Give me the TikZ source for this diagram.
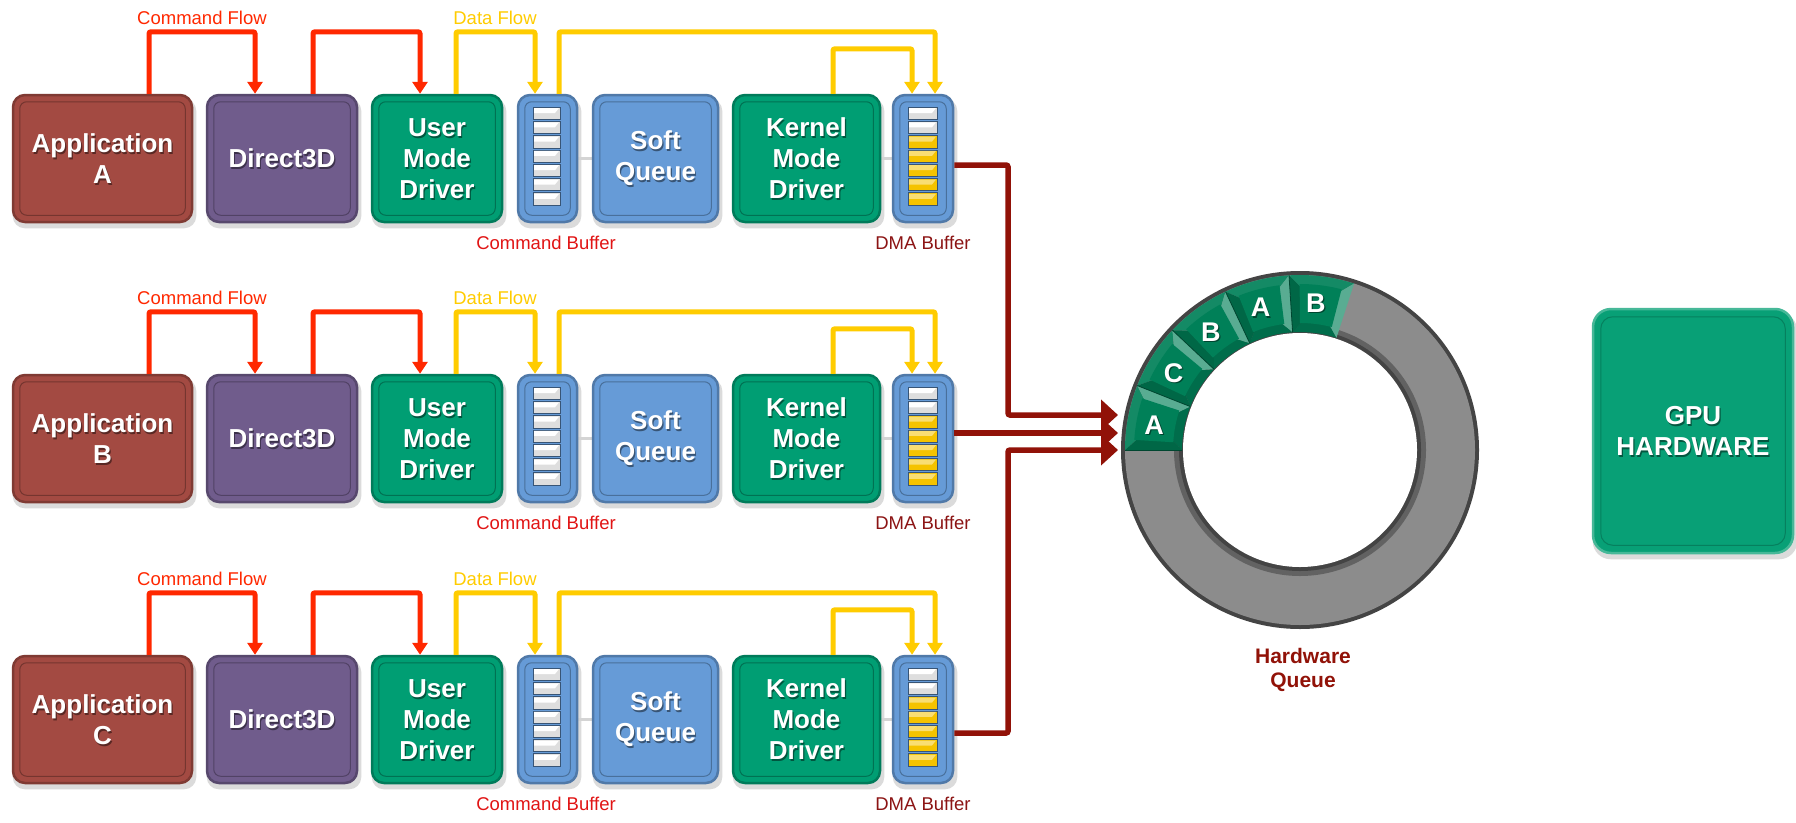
\documentclass[tikz,border=0pt]{standalone}
\usepackage{fontspec}
\setmainfont{Liberation Sans}
\usetikzlibrary{arrows.meta,calc}
\pgfdeclarelayer{bg}
\pgfsetlayers{bg,main}
\definecolor{appc}{RGB}{163,74,66}
\definecolor{d3dc}{RGB}{112,92,140}
\definecolor{grnc}{RGB}{0,158,115}
\definecolor{bluc}{RGB}{102,155,215}
\definecolor{redf}{RGB}{255,40,0}
\definecolor{yelf}{RGB}{255,204,0}
\definecolor{marf}{RGB}{145,18,8}
\definecolor{cbufc}{RGB}{225,20,20}
\definecolor{dmac}{RGB}{140,20,20}
\definecolor{slotg}{RGB}{222,222,222}
\definecolor{sloty}{RGB}{245,195,0}
\definecolor{ringg}{RGB}{140,140,140}
\definecolor{ringd}{RGB}{68,68,68}
\definecolor{segc}{RGB}{0,128,88}
\definecolor{gpuc}{RGB}{8,160,118}
\newcommand\bx[6]{%
  \node[box, fill=#2, draw=#2!78!black, minimum width=#5pt] (#1) at (#3,#4) {};
  \draw[#2!72!black, line width=1pt, rounded corners=7pt] ([shift={(8pt,-8pt)}]#1.north west) rectangle ([shift={(-8pt,8pt)}]#1.south east);
  \node[btxt, text=black, opacity=0.45] (#1s) at ([shift={(1.2pt,-1.8pt)}]#1.center) {#6};
  \node[btxt] (#1t) at (#1.center) {#6};
  \begin{pgfonlayer}{bg}\fill[black!14, rounded corners=12pt] ([shift={(1pt,-5pt)}]#1.north west) rectangle ([shift={(3pt,-5pt)}]#1.south east);\end{pgfonlayer}%
}
\begin{document}
\begin{tikzpicture}[x=1pt,y=-1pt,
  box/.style={rounded corners=12pt, line width=2.5pt, inner sep=0pt, minimum height=127pt},
  btxt/.style={inner sep=0pt, text=white, font=\bfseries\fontsize{26}{31}\selectfont, align=center},
  lab/.style={font=\fontsize{18.5}{20}\selectfont, inner sep=0pt},
  redflow/.style={draw=redf, line width=5pt, rounded corners=2pt, -{Triangle[width=15pt,length=12pt]}},
  yelflow/.style={draw=yelf, line width=5pt, rounded corners=2pt, -{Triangle[width=15pt,length=12pt]}},
  marflow/.style={draw=marf, line width=5.5pt, rounded corners=2pt, -{Triangle[width=30pt,length=17pt]}},
  gline/.style={draw=black!17, line width=3pt},
  slot/.style={draw=bluc!55!black, line width=0.8pt}
]
\begin{pgfonlayer}{bg}\fill[white] (0,0) rectangle (1796,822);\end{pgfonlayer}
\useasboundingbox (0,0) rectangle (1796,822);

\foreach \r/\L/\yo in {1/A/0,2/B/280,3/C/561}{
  \bx{app\r}{appc}{102.5}{158.5+\yo}{179}{Application\\\L}
  \bx{d3d\r}{d3dc}{282}{158.5+\yo}{150}{Direct3D}
  \bx{umd\r}{grnc}{437}{158.5+\yo}{130}{User\\Mode\\Driver}
  \bx{cmd\r}{bluc}{547.5}{158.5+\yo}{59}{}
  \bx{soft\r}{bluc}{655.5}{158.5+\yo}{125}{Soft\\Queue}
  \bx{kmd\r}{grnc}{806.5}{158.5+\yo}{147}{Kernel\\Mode\\Driver}
  \bx{dma\r}{bluc}{923}{158.5+\yo}{60}{}
  \foreach \i in {0,...,6}{
    \draw[slot, fill=slotg] (533,107+\yo+\i*14.3) rectangle ++(27,12.3);
    \fill[white] (534,108+\yo+\i*14.3) -- ++(25,0) -- ++(-4,5) -- ++(-21,0) -- cycle;
    \ifnum\i<2 \def\sc{slotg}\def\hc{white}\else\def\sc{sloty}\def\hc{sloty!55!white}\fi
    \draw[slot, fill=\sc] (908,107+\yo+\i*14.3) rectangle ++(29,12.3);
    \fill[\hc] (909,108+\yo+\i*14.3) -- ++(27,0) -- ++(-4,5) -- ++(-23,0) -- cycle;
  }
  \begin{pgfonlayer}{bg}
    \draw[gline] (cmd\r.east) -- (soft\r.west);
    \draw[gline] (kmd\r.east) -- (dma\r.west);
  \end{pgfonlayer}
  \node[lab, text=redf] (cf\r) at (202,18+\yo) {Command Flow};
  \node[lab, text=yelf] (df\r) at (495,18+\yo) {Data Flow};
  \node[lab, text=cbufc] (cbl\r) at (546,243+\yo) {Command Buffer};
  \node[lab, text=dmac] (dbl\r) at (923,243+\yo) {DMA Buffer};
  \draw[redflow] ([xshift=46.5pt]app\r.north) -- ++(0,-62) -| ([xshift=-27pt]d3d\r.north);
  \draw[redflow] ([xshift=31pt]d3d\r.north) -- ++(0,-62) -| ([xshift=-17pt]umd\r.north);
  \draw[yelflow] ([xshift=19pt]umd\r.north) -- ++(0,-62) -| ([xshift=-12.5pt]cmd\r.north);
  \draw[yelflow] ([xshift=11.5pt]cmd\r.north) -- ++(0,-62) -| ([xshift=12pt]dma\r.north);
  \draw[yelflow] ([xshift=26.5pt]kmd\r.north) -- ++(0,-45) -| ([xshift=-11pt]dma\r.north);
}

% hardware queue ring
\begin{scope}[shift={(1300,450)}, x=1pt, y=1pt]
  \fill[ringd] (0,0) circle (179);
  \fill[ringg] (0,0) circle (175);
  \fill[ringg!70!black] (0,0) circle (126);
  \fill[ringd] (0,0) circle (121);
  \fill[white] (0,0) circle (117);
  \foreach \k/\T in {0/A,1/C,2/B,3/A,4/B}{
    \pgfmathsetmacro\aa{180-21.6*(\k+1)}
    \pgfmathsetmacro\ab{180-21.6*\k}
    \pgfmathsetmacro\am{(\aa+\ab)/2}
    \fill[segc!92!white] (\am:146.5) -- (\aa:175) arc[start angle=\aa, end angle=\ab, radius=175] -- cycle;
    \fill[segc!85!black] (\am:146.5) -- (\ab:118) arc[start angle=\ab, end angle=\aa, radius=118] -- cycle;
    \fill[segc!65!white] (\am:146.5) -- (\aa:175) -- (\aa:118) -- cycle;
    \fill[segc!80!black] (\am:146.5) -- (\ab:175) -- (\ab:118) -- cycle;
    \fill[segc] (\aa+3.5:127) -- (\aa+3.5:166) arc[start angle=\aa+3.5, end angle=\ab-3.5, radius=166] -- (\ab-3.5:127) arc[start angle=\ab-3.5, end angle=\aa+3.5, radius=127] -- cycle;
    \draw[segc!55!black, line width=0.8pt] (\ab:118) -- (\ab:175);
    \node[text=black, opacity=0.45, font=\bfseries\fontsize{27}{27}\selectfont] (seg\k s) at ([shift={(1.2pt,-1.8pt)}]\am+1:148) {\T};
    \node[text=white, font=\bfseries\fontsize{27}{27}\selectfont] (seg\k) at (\am+1:148) {\T};
  }
  \coordinate (in1) at (-182,35);
  \coordinate (in2) at (-182,17);
  \coordinate (in3) at (-182,0);
\end{scope}
\node[font=\bfseries\fontsize{21}{24}\selectfont, text=marf, align=center] (hwq) at (1303,670) {Hardware\\Queue};

\draw[marflow] ([yshift=-6.5pt]dma1.east) -| ($(in1)+(-110,0)$) -- (in1);
\draw[marflow] (dma2.east |- in2) -- (in2);
\draw[marflow] ([yshift=-13.5pt]dma3.east) -| ($(in3)+(-110,0)$) -- (in3);

% GPU
\node[box, fill=gpuc, draw=gpuc!75!white, minimum width=200pt, minimum height=244pt, rounded corners=18pt] (gpu) at (1693,431) {};
\draw[gpuc!80!black, line width=1pt, rounded corners=12pt] ([shift={(9pt,-9pt)}]gpu.north west) rectangle ([shift={(-9pt,9pt)}]gpu.south east);
\node[btxt, text=black, opacity=0.45] (gpus) at ([shift={(1.2pt,-1.8pt)}]gpu.center) {GPU\\HARDWARE};
\node[btxt] (gput) at (gpu.center) {GPU\\HARDWARE};
\begin{pgfonlayer}{bg}\fill[black!14, rounded corners=18pt] ([shift={(1pt,-5pt)}]gpu.north west) rectangle ([shift={(3pt,-5pt)}]gpu.south east);\end{pgfonlayer}
\end{tikzpicture}
\end{document}
